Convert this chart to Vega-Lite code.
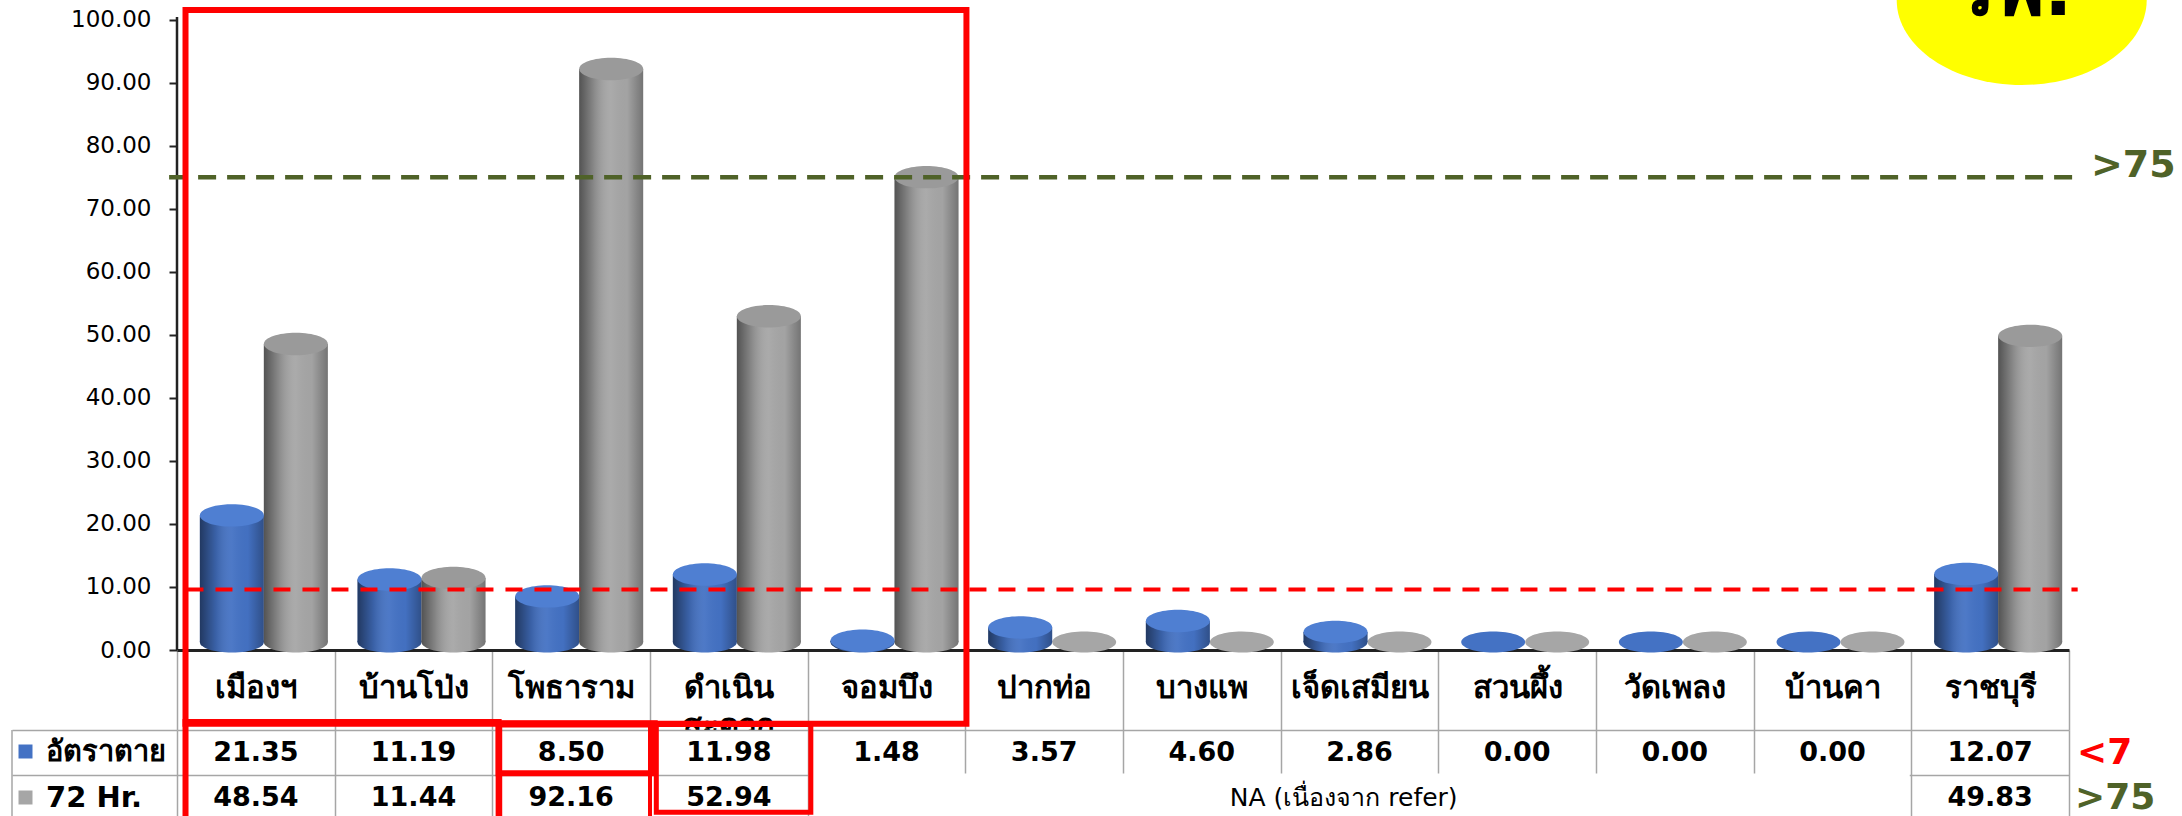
{
  "$schema": "https://vega.github.io/schema/vega-lite/v6.json",
  "padding": {"left": 11, "top": 0, "right": 0, "bottom": 0},
  "autosize": {"type": "pad"},
  "background": "white",
  "config": {"font": "Tahoma, DejaVu Sans, sans-serif", "view": {"stroke": null}},
  "datasets": {
    "d": [
      {"cat": "เมืองฯ", "series": "อัตราตาย", "v": 21.35},
      {"cat": "บ้านโป่ง", "series": "อัตราตาย", "v": 11.19},
      {"cat": "โพธาราม", "series": "อัตราตาย", "v": 8.50},
      {"cat": "ดำเนินสะดวก", "series": "อัตราตาย", "v": 11.98},
      {"cat": "จอมบึง", "series": "อัตราตาย", "v": 1.48},
      {"cat": "ปากท่อ", "series": "อัตราตาย", "v": 3.57},
      {"cat": "บางแพ", "series": "อัตราตาย", "v": 4.60},
      {"cat": "เจ็ดเสมียน", "series": "อัตราตาย", "v": 2.86},
      {"cat": "สวนผึ้ง", "series": "อัตราตาย", "v": 0},
      {"cat": "วัดเพลง", "series": "อัตราตาย", "v": 0},
      {"cat": "บ้านคา", "series": "อัตราตาย", "v": 0},
      {"cat": "ราชบุรี", "series": "อัตราตาย", "v": 12.07},
      {"cat": "เมืองฯ", "series": "72 Hr.", "v": 48.54},
      {"cat": "บ้านโป่ง", "series": "72 Hr.", "v": 11.44},
      {"cat": "โพธาราม", "series": "72 Hr.", "v": 92.16},
      {"cat": "ดำเนินสะดวก", "series": "72 Hr.", "v": 52.94},
      {"cat": "จอมบึง", "series": "72 Hr.", "v": 75.0},
      {"cat": "ปากท่อ", "series": "72 Hr.", "v": 0},
      {"cat": "บางแพ", "series": "72 Hr.", "v": 0},
      {"cat": "เจ็ดเสมียน", "series": "72 Hr.", "v": 0},
      {"cat": "สวนผึ้ง", "series": "72 Hr.", "v": 0},
      {"cat": "วัดเพลง", "series": "72 Hr.", "v": 0},
      {"cat": "บ้านคา", "series": "72 Hr.", "v": 0},
      {"cat": "ราชบุรี", "series": "72 Hr.", "v": 49.83}
    ]
  },
  "bounds": "flush",
  "spacing": 80,
  "resolve": {"scale": {"x": "independent", "y": "independent"}},
  "vconcat": [
    {
      "width": 1892,
      "height": 650,
      "data": {"name": "d"},
      "encoding": {
        "x": {
          "field": "cat", "type": "nominal",
          "sort": ["เมืองฯ","บ้านโป่ง","โพธาราม","ดำเนินสะดวก","จอมบึง","ปากท่อ","บางแพ","เจ็ดเสมียน","สวนผึ้ง","วัดเพลง","บ้านคา","ราชบุรี"],
          "scale": {"domain": ["เมืองฯ","บ้านโป่ง","โพธาราม","ดำเนินสะดวก","จอมบึง","ปากท่อ","บางแพ","เจ็ดเสมียน","สวนผึ้ง","วัดเพลง","บ้านคา","ราชบุรี"], "paddingInner": 0, "paddingOuter": 0},
          "axis": {
            "title": null,
            "labelExpr": "datum.value == 'ดำเนินสะดวก' ? ['ดำเนิน', 'สะดวก'] : datum.value",
            "labelFontSize": 31, "labelFontWeight": "bold", "labelColor": "black",
            "labelAngle": 0, "labelPadding": -57, "labelBaseline": "top", "labelLineHeight": 38,
            "labelOverlap": false, "labelLimit": 0,
            "tickBand": "extent", "tickSize": 80, "tickColor": "#a6a6a6", "tickWidth": 1.5,
            "domainColor": "#222222", "domainWidth": 3, "grid": false
          }
        }
      },
      "layer": [
        {
          "data": {"values": [{}]},
          "mark": {"type": "point", "shape": "M-1,0A1,0.68,0,0,0,1,0Z", "size": 62500, "filled": true, "opacity": 1, "fill": "#ffff00", "strokeWidth": 0},
          "encoding": {"x": {"datum": "ราชบุรี", "bandPosition": 0.7}, "y": {"datum": 103.1}}
        },
        {
          "data": {"values": [{}]},
          "mark": {"type": "text", "text": "รพ.", "fontSize": 75, "fontWeight": "bold", "color": "black", "baseline": "alphabetic", "align": "center", "clip": true},
          "encoding": {"x": {"datum": "ราชบุรี", "bandPosition": 0.65}, "y": {"datum": 100.75}}
        },
        {
          "mark": {"type": "point", "shape": "M-1,0A1,0.33,0,1,1,1,0A1,0.33,0,1,1,-1,0Z", "size": 4096, "filled": true, "opacity": 1, "strokeWidth": 0, "yOffset": -8},
          "encoding": {
            "xOffset": {"field": "series", "type": "nominal", "sort": ["อัตราตาย", "72 Hr."], "scale": {"domain": ["อัตราตาย", "72 Hr."], "paddingInner": 0, "paddingOuter": 0.232, "align": 0.77}},
            "y": {"datum": 0},
            "color": {"field": "series", "type": "nominal", "scale": {"domain": ["อัตราตาย", "72 Hr."], "range": ["#4472c4", "#a6a6a6"]},
              "legend": {"orient": "none", "legendX": -166, "legendY": 737, "title": null, "symbolType": "square", "symbolSize": 196, "symbolStrokeWidth": 0, "labelFontSize": 29, "labelFontWeight": "bold", "labelColor": "black", "labelOffset": 6, "rowPadding": 16, "padding": 0, "labelLimit": 300}}
          }
        },
        {
          "transform": [{"filter": "datum.v > 0"}],
          "mark": {"type": "point", "shape": "M-1,0A1,0.33,0,1,1,1,0A1,0.33,0,1,1,-1,0Z", "size": 4096, "filled": true, "opacity": 1, "strokeWidth": 0, "yOffset": -8,
            "fill": {"gradient": "linear", "x1": 0, "y1": 0, "x2": 1, "y2": 0, "stops": [{"offset": 0, "color": "rgba(0,0,0,0.5)"}, {"offset": 0.25, "color": "rgba(0,0,0,0.15)"}, {"offset": 0.5, "color": "rgba(255,255,255,0.05)"}, {"offset": 0.75, "color": "rgba(0,0,0,0.02)"}, {"offset": 1, "color": "rgba(0,0,0,0.3)"}]}},
          "encoding": {
            "xOffset": {"field": "series", "type": "nominal", "sort": ["อัตราตาย", "72 Hr."]},
            "y": {"datum": 0}
          }
        },
        {
          "transform": [{"filter": "datum.v > 0"}],
          "mark": {"type": "bar", "y2Offset": -8},
          "encoding": {
            "xOffset": {"field": "series", "type": "nominal", "sort": ["อัตราตาย", "72 Hr."]},
            "y": {
              "field": "v", "type": "quantitative",
              "scale": {"domain": [0, 103.1], "nice": false, "zero": true},
              "axis": {"title": null, "values": [0, 10, 20, 30, 40, 50, 60, 70, 80, 90, 100], "format": ".2f", "labelFontSize": 23, "labelColor": "black", "labelPadding": 18, "tickSize": 8, "tickColor": "#222222", "tickWidth": 2, "domain": false, "grid": false}
            },
            "y2": {"datum": 0},
            "color": {
              "field": "series", "type": "nominal",
              "scale": {"domain": ["อัตราตาย", "72 Hr."], "range": ["#4472c4", "#a6a6a6"]},
              "legend": {"orient": "none", "legendX": -166, "legendY": 737, "title": null, "symbolType": "square", "symbolSize": 196, "symbolStrokeWidth": 0, "labelFontSize": 29, "labelFontWeight": "bold", "labelColor": "black", "labelOffset": 6, "rowPadding": 16, "padding": 0, "labelLimit": 300}
            }
          }
        },
        {
          "transform": [{"filter": "datum.v > 0"}],
          "mark": {"type": "bar", "y2Offset": -8,
            "fill": {"gradient": "linear", "x1": 0, "y1": 0, "x2": 1, "y2": 0, "stops": [{"offset": 0, "color": "rgba(0,0,0,0.5)"}, {"offset": 0.25, "color": "rgba(0,0,0,0.15)"}, {"offset": 0.5, "color": "rgba(255,255,255,0.05)"}, {"offset": 0.75, "color": "rgba(0,0,0,0.02)"}, {"offset": 1, "color": "rgba(0,0,0,0.3)"}]}},
          "encoding": {
            "xOffset": {"field": "series", "type": "nominal", "sort": ["อัตราตาย", "72 Hr."]},
            "y": {"field": "v", "type": "quantitative"},
            "y2": {"datum": 0}
          }
        },
        {
          "transform": [{"filter": "datum.v > 0"}],
          "mark": {"type": "point", "shape": "M-1,0A1,0.35,0,1,1,1,0A1,0.35,0,1,1,-1,0Z", "size": 4096, "filled": true, "opacity": 1, "strokeWidth": 0},
          "encoding": {
            "xOffset": {"field": "series", "type": "nominal", "sort": ["อัตราตาย", "72 Hr."]},
            "y": {"field": "v", "type": "quantitative"},
            "fill": {"field": "series", "type": "nominal", "scale": {"domain": ["อัตราตาย", "72 Hr."], "range": ["#4f7fd2", "#9a9a9a"]}, "legend": null}
          }
        },
        {
          "data": {"values": [{}]},
          "mark": {"type": "rule", "color": "#222222", "strokeWidth": 2.5},
          "encoding": {"x": {"datum": "เมืองฯ", "bandPosition": 0}, "y": {"datum": 0}, "y2": {"datum": 100.4}}
        },
        {
          "data": {"values": [{}]},
          "mark": {"type": "rule", "color": "#4f6228", "strokeWidth": 4.5, "strokeDash": [18, 11]},
          "encoding": {"x": {"datum": "เมืองฯ", "bandPosition": -0.05}, "x2": {"datum": "ราชบุรี", "bandPosition": 1.055}, "y": {"datum": 75}}
        },
        {
          "data": {"values": [{}]},
          "mark": {"type": "rule", "color": "#ff0000", "strokeWidth": 4, "strokeDash": [17, 12]},
          "encoding": {"x": {"datum": "เมืองฯ", "bandPosition": 0.06}, "x2": {"datum": "ราชบุรี", "bandPosition": 1.055}, "y": {"datum": 9.6}}
        },
        {
          "data": {"values": [{}]},
          "mark": {"type": "text", "text": ">75", "fontSize": 38, "fontWeight": "bold", "color": "#4f6228", "align": "left", "baseline": "middle", "dx": 22, "dy": -11},
          "encoding": {"x": {"datum": "ราชบุรี", "bandPosition": 1}, "y": {"datum": 75}}
        },
        {
          "data": {"values": [{}]},
          "mark": {"type": "rect", "filled": false, "stroke": "#ff0000", "strokeWidth": 6},
          "encoding": {"x": {"datum": "เมืองฯ", "bandPosition": 0.054}, "x2": {"datum": "จอมบึง", "bandPosition": 1.007}, "y": {"datum": 101.5}, "y2": {"datum": -11.7}}
        }
      ]
    },
    {
      "width": 1892,
      "height": 90,
      "view": {"fill": "white", "stroke": null},
      "data": {"name": "d"},
      "encoding": {
        "x": {
          "field": "cat", "type": "nominal",
          "scale": {"domain": ["เมืองฯ","บ้านโป่ง","โพธาราม","ดำเนินสะดวก","จอมบึง","ปากท่อ","บางแพ","เจ็ดเสมียน","สวนผึ้ง","วัดเพลง","บ้านคา","ราชบุรี"], "paddingInner": 0, "paddingOuter": 0},
          "axis": {"title": null, "labels": false, "ticks": false, "domain": false, "grid": true, "tickBand": "extent", "gridColor": "#a6a6a6", "gridWidth": 1.5, "gridOpacity": 1}
        },
        "y": {
          "field": "series", "type": "nominal",
          "scale": {"domain": ["อัตราตาย", "72 Hr."], "paddingInner": 0, "paddingOuter": 0},
          "axis": {"title": null, "labels": false, "ticks": true, "tickBand": "extent", "tickSize": 165, "tickColor": "#a6a6a6", "tickWidth": 1.5, "domain": false, "grid": true, "gridColor": "#a6a6a6", "gridWidth": 1.5, "gridOpacity": 1}
        }
      },
      "layer": [
        {
          "transform": [{"filter": "!(datum.series == '72 Hr.' && indexof(['จอมบึง','ปากท่อ','บางแพ','เจ็ดเสมียน','สวนผึ้ง','วัดเพลง','บ้านคา'], datum.cat) >= 0)"}],
          "mark": {"type": "text", "fontSize": 27, "fontWeight": "bold", "color": "black"},
          "encoding": {"text": {"field": "v", "type": "quantitative", "format": ".2f"}}
        },
        {
          "data": {"values": [{}]},
          "mark": {"type": "rect", "color": "white", "yOffset": -1.5},
          "encoding": {"x": {"datum": "จอมบึง", "bandPosition": 0.02}, "x2": {"datum": "บ้านคา", "bandPosition": 0.99}, "y": {"datum": "72 Hr.", "bandPosition": 0}, "y2": {"datum": "72 Hr.", "bandPosition": 1}}
        },
        {
          "data": {"values": [{}]},
          "mark": {"type": "text", "text": "NA (เนื่องจาก refer)", "fontSize": 25, "color": "black"},
          "encoding": {"x": {"datum": "เจ็ดเสมียน", "bandPosition": 0.4}, "y": {"datum": "72 Hr."}}
        },
        {
          "data": {"values": [{}]},
          "mark": {"type": "rule", "color": "#a6a6a6", "strokeWidth": 1.5, "xOffset": -165},
          "encoding": {"x": {"datum": "เมืองฯ", "bandPosition": 0}, "y": {"datum": "อัตราตาย", "bandPosition": 0}, "y2": {"datum": "72 Hr.", "bandPosition": 1}}
        },
        {
          "data": {"values": [{}]},
          "mark": {"type": "rect", "filled": false, "stroke": "#ff0000", "strokeWidth": 6},
          "encoding": {"x": {"datum": "เมืองฯ", "bandPosition": 0.054}, "x2": {"datum": "บ้านโป่ง", "bandPosition": 1.04}, "y": {"datum": "อัตราตาย", "bandPosition": -0.18}, "y2": {"datum": "72 Hr.", "bandPosition": 1.4}}
        },
        {
          "data": {"values": [{}]},
          "mark": {"type": "rect", "filled": false, "stroke": "#ff0000", "strokeWidth": 4},
          "encoding": {"x": {"datum": "โพธาราม", "bandPosition": 0.05}, "x2": {"datum": "โพธาราม", "bandPosition": 1.0}, "y": {"datum": "อัตราตาย", "bandPosition": -0.1}, "y2": {"datum": "72 Hr.", "bandPosition": 1.4}}
        },
        {
          "data": {"values": [{}]},
          "mark": {"type": "rect", "filled": false, "stroke": "#ff0000", "strokeWidth": 6},
          "encoding": {"x": {"datum": "โพธาราม", "bandPosition": 0.04}, "x2": {"datum": "โพธาราม", "bandPosition": 1.03}, "y": {"datum": "อัตราตาย", "bandPosition": -0.15}, "y2": {"datum": "อัตราตาย", "bandPosition": 0.96}}
        },
        {
          "data": {"values": [{}]},
          "mark": {"type": "rect", "filled": false, "stroke": "#ff0000", "strokeWidth": 5},
          "encoding": {"x": {"datum": "ดำเนินสะดวก", "bandPosition": 0.04}, "x2": {"datum": "ดำเนินสะดวก", "bandPosition": 1.02}, "y": {"datum": "อัตราตาย", "bandPosition": -0.12}, "y2": {"datum": "72 Hr.", "bandPosition": 0.83}}
        },
        {
          "data": {"values": [{}]},
          "mark": {"type": "text", "text": "<7", "fontSize": 36, "fontWeight": "bold", "color": "#ff0000", "align": "left", "baseline": "middle", "dx": 8},
          "encoding": {"x": {"datum": "ราชบุรี", "bandPosition": 1}, "y": {"datum": "อัตราตาย"}}
        },
        {
          "data": {"values": [{}]},
          "mark": {"type": "text", "text": ">75", "fontSize": 36, "fontWeight": "bold", "color": "#4f6228", "align": "left", "baseline": "middle", "dx": 6},
          "encoding": {"x": {"datum": "ราชบุรี", "bandPosition": 1}, "y": {"datum": "72 Hr."}}
        }
      ]
    }
  ]
}
